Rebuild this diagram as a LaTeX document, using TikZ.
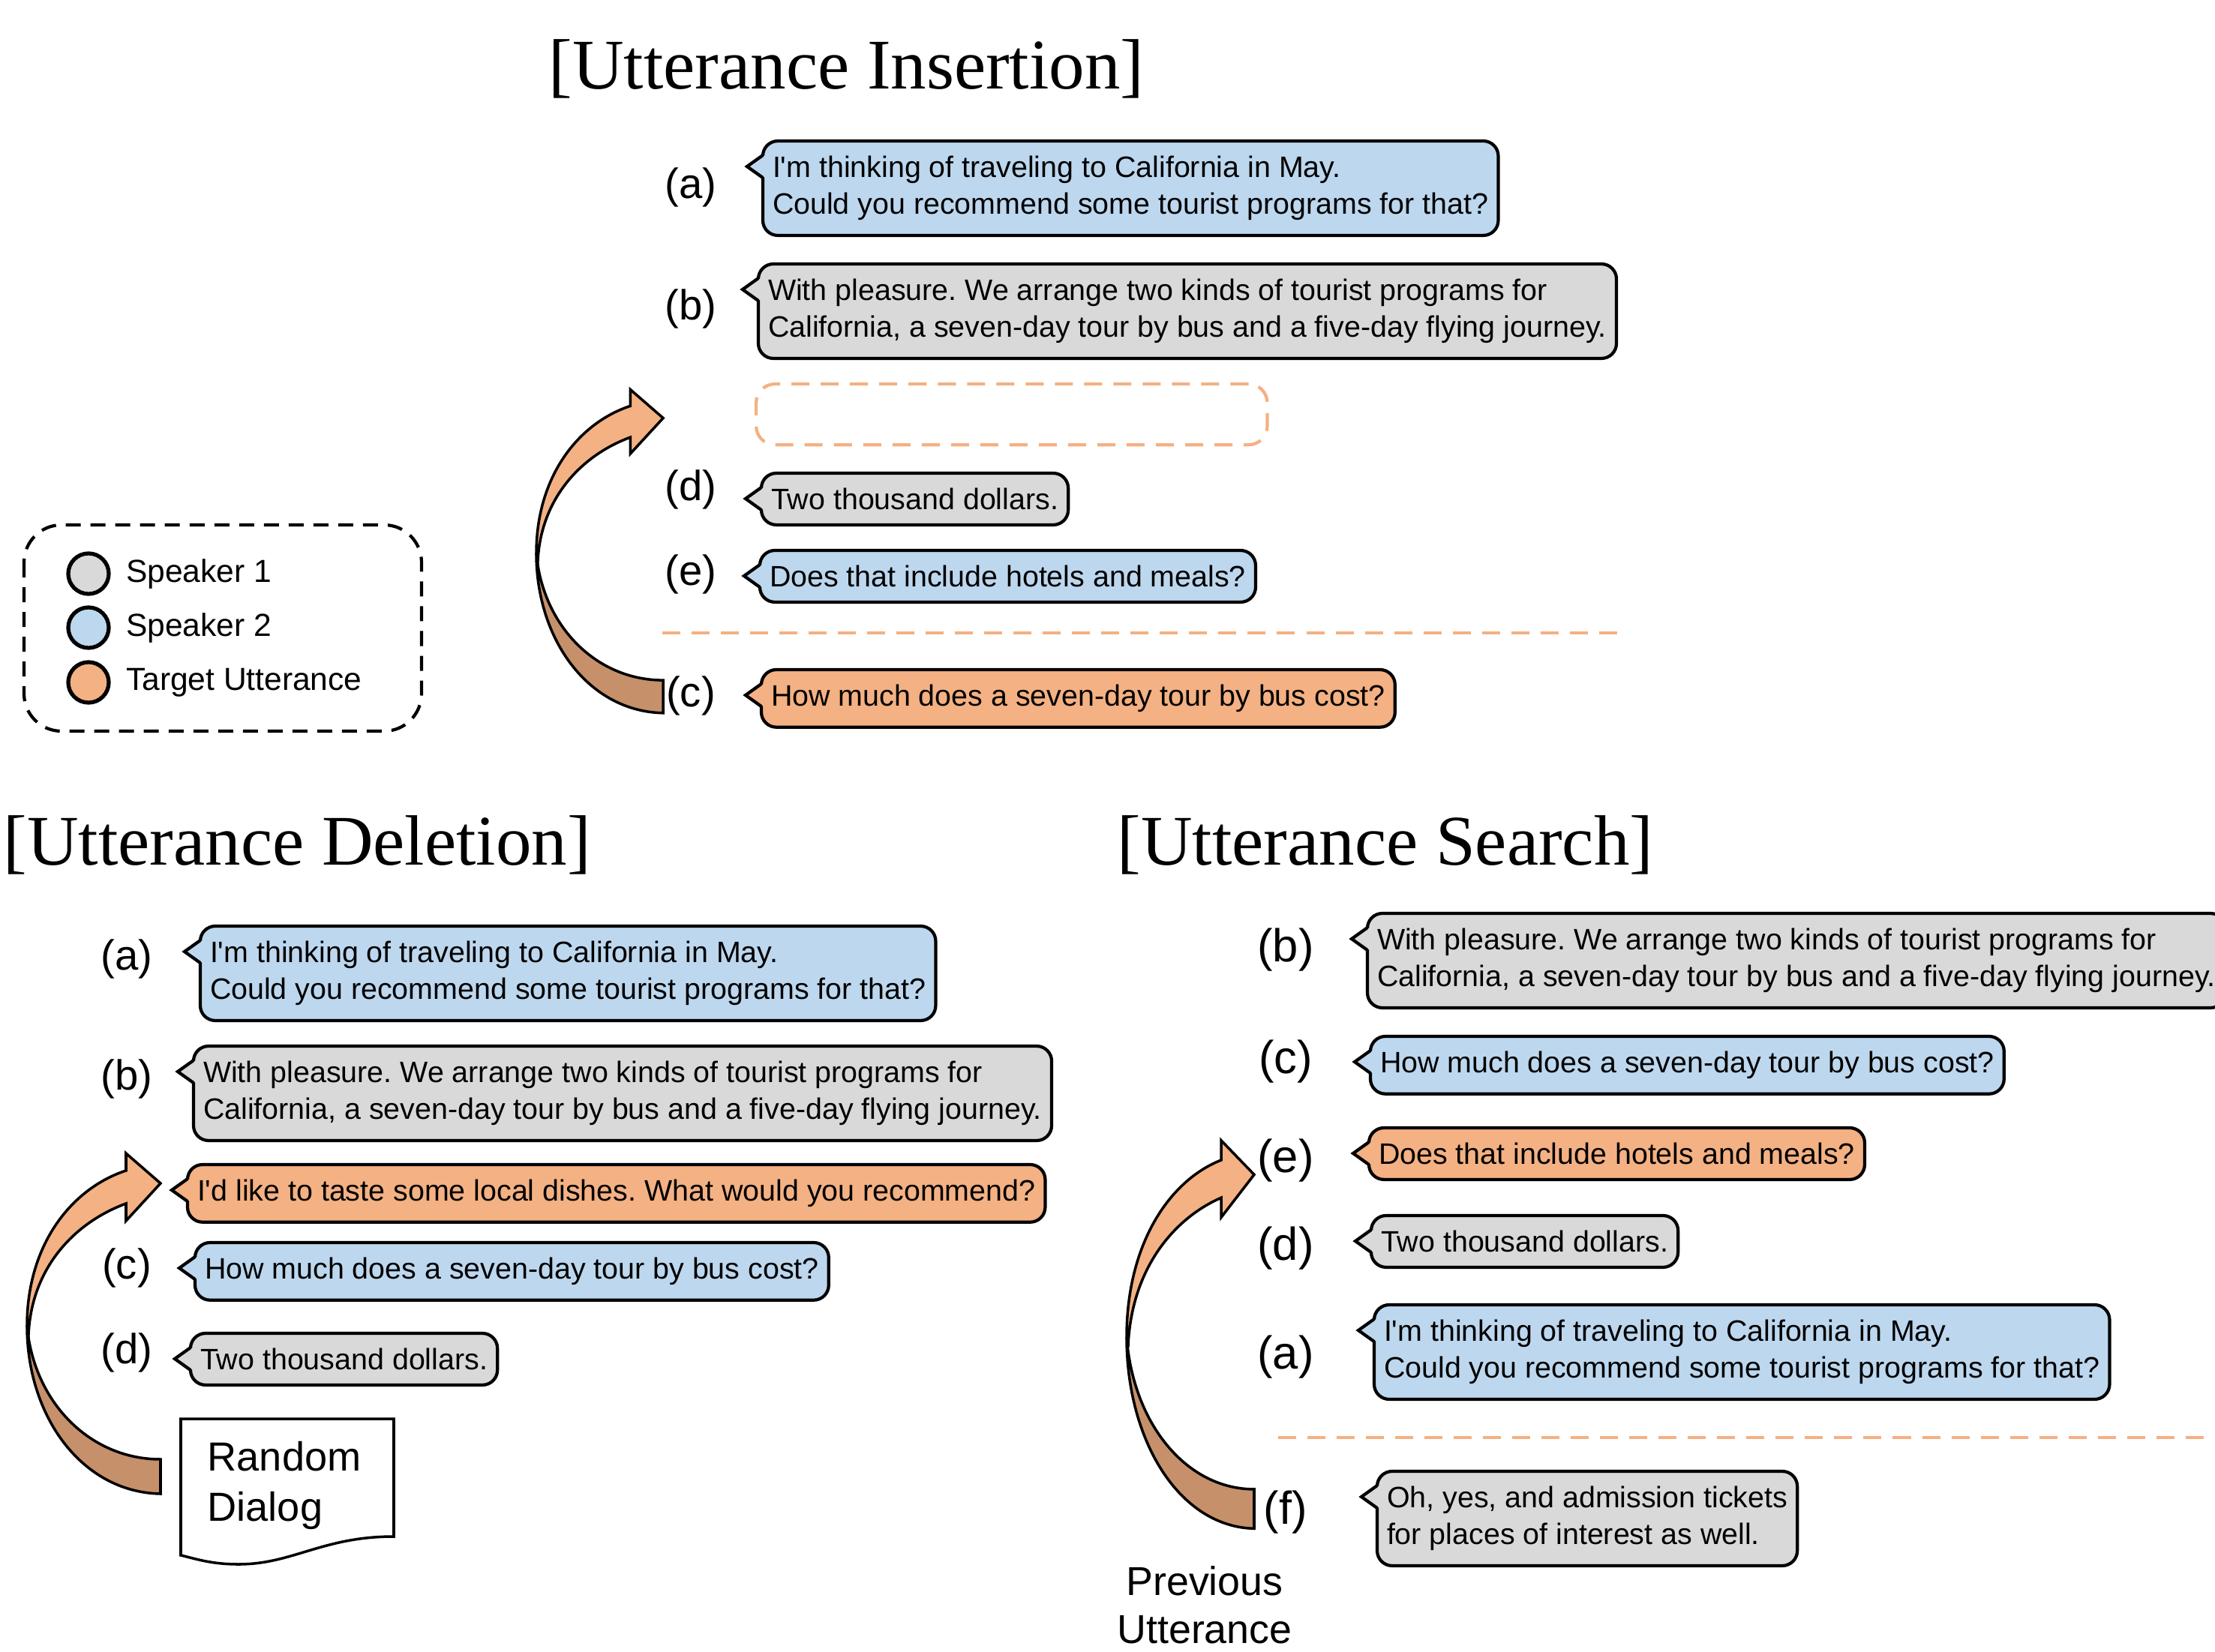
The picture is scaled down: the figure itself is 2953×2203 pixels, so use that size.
\documentclass[tikz,border=0pt]{standalone}
\usepackage{fontspec}
\setmainfont{Liberation Sans}
\newfontfamily\titlefont{Liberation Serif}
\usetikzlibrary{calc,positioning}
\frenchspacing

\definecolor{spkone}{HTML}{D9D9D9}
\definecolor{spktwo}{HTML}{BDD7EE}
\definecolor{target}{HTML}{F4B183}
\definecolor{targetdark}{HTML}{C5906A}

\tikzset{
	bubble/.style={draw, line width=1.2pt, rounded corners=0.2cm, anchor=north west, outer sep=0pt, align=left, inner xsep=0.13cm, inner ysep=0.2cm, font=\fontsize{11.2}{14}\selectfont},
	tag/.style={font=\fontsize{16}{19}\selectfont},
	bigtag/.style={font=\fontsize{17.5}{21}\selectfont},
	heading/.style={anchor=base west, inner sep=0pt, font=\titlefont\fontsize{27}{32}\selectfont},
	gap/.style={draw=target, line width=1.2pt, dash pattern=on 0.24cm off 0.15cm},
	legenddot/.style={circle, draw, line width=1.5pt, minimum size=0.54cm, inner sep=0pt},
}

% speech bubble: name, north west corner, colour, text
\newcommand{\utt}[4]{%
	\node[bubble, fill=#3] (#1) at (#2) {#4};
	\fill[#3] ($(#1.north west)+(0.03cm,-0.19cm)$) -- ++(-0.24cm,-0.15cm) -- ++(0.24cm,-0.15cm) -- cycle;
	\draw[line width=1.2pt] ($(#1.north west)+(0,-0.19cm)$) -- ++(-0.21cm,-0.15cm) -- ++(0.21cm,-0.15cm);
}

% curved arrow: leftmost point, xscale, yscale
\newcommand{\curvarrow}[3]{%
	\begin{scope}[shift={(#1)}, xscale=#2, yscale=#3, line width=1pt]
		\filldraw[fill=target] (0,0) .. controls (0,-108) and (59,-183) .. (132,-207) -- (132,-230) -- (178,-190) -- (132,-140) -- (132,-163) .. controls (64,-138) and (6,-78) .. (2,12) -- cycle;
		\filldraw[fill=targetdark] (178,224) .. controls (74,222) and (0,122) .. (0,0) .. controls (9,102) and (84,178) .. (178,178) -- cycle;
	\end{scope}
}

\begin{document}
\begin{tikzpicture}[x=0.01cm, y=-0.01cm]

	\useasboundingbox (0,0) rectangle (2953,2203);

	% legend
	\draw[line width=1.2pt, dash pattern=on 0.2cm off 0.13cm, rounded corners=0.5cm] (32,700) rectangle (562,975);
	\node[legenddot, fill=spkone] (k1) at (118,765) {};
	\node[legenddot, fill=spktwo] (k2) at (118,837) {};
	\node[legenddot, fill=target] (k3) at (118,910) {};
	\node[right=0.08cm of k1, font=\fontsize{12.1}{14}\selectfont] (n1) {Speaker 1};
	\node[right=0.08cm of k2, font=\fontsize{12.1}{14}\selectfont] (n2) {Speaker 2};
	\node[right=0.08cm of k3, font=\fontsize{12.1}{14}\selectfont] (n3) {Target Utterance};

	% insertion
	\node[heading] (tins) at (731,119) {[Utterance Insertion]};
	\curvarrow{715,738}{0.95}{0.95}
	\node[tag] (lia) at (921,250) {(a)};
	\node[tag] (lib) at (921,412) {(b)};
	\node[tag] (lid) at (921,653) {(d)};
	\node[tag] (lie) at (921,766) {(e)};
	\node[tag] (lic) at (921,928) {(c)};
	\utt{ia}{1017,188}{spktwo}{I\textquotesingle m thinking of traveling to California in May.\\Could you recommend some tourist programs for that?}
	\utt{ib}{1011,352}{spkone}{With pleasure. We arrange two kinds of tourist programs for\\California, a seven-day tour by bus and a five-day flying journey.}
	\node[gap, rounded corners=0.25cm, anchor=north west, minimum width=6.81cm, minimum height=0.81cm] (slot) at (1006,510) {};
	\utt{id}{1015,631}{spkone}{Two thousand dollars.}
	\utt{ie}{1013,734}{spktwo}{Does that include hotels and meals?}
	\draw[gap] (883,844) -- (2169,844);
	\utt{ic}{1015,893}{target}{How much does a seven-day tour by bus cost?}

	% deletion
	\node[heading] (tdel) at (4,1153) {[Utterance Deletion]};
	\curvarrow{36,1768}{1}{1}
	\node[tag] (lda) at (169,1279) {(a)};
	\node[tag] (ldb) at (169,1439) {(b)};
	\node[tag] (ldc) at (169,1691) {(c)};
	\node[tag] (ldd) at (169,1804) {(d)};
	\utt{da}{267,1235}{spktwo}{I\textquotesingle m thinking of traveling to California in May.\\Could you recommend some tourist programs for that?}
	\utt{db}{258,1395}{spkone}{With pleasure. We arrange two kinds of tourist programs for\\California, a seven-day tour by bus and a five-day flying journey.}
	\utt{dt}{250,1553}{target}{I\textquotesingle d like to taste some local dishes. What would you recommend?}
	\utt{dc}{260,1657}{spktwo}{How much does a seven-day tour by bus cost?}
	\utt{dd}{254,1778}{spkone}{Two thousand dollars.}
	\draw[line width=1pt, fill=white] (241,1892) -- (241,2074) .. controls (262,2079) and (282,2086) .. (318,2086) .. controls (390,2086) and (430,2049) .. (525,2049) -- (525,1892) -- cycle;
	\node[anchor=north west, align=left, inner sep=0pt, font=\fontsize{15.4}{19}\selectfont] (rand) at (276,1922) {Random\\Dialog};

	% search
	\node[heading] (tsea) at (1489,1153) {[Utterance Search]};
	\curvarrow{1502,1783}{0.955}{1.14}
	\node[bigtag] (lsb) at (1714,1267) {(b)};
	\node[bigtag] (lsc) at (1714,1416) {(c)};
	\node[bigtag] (lse) at (1714,1548) {(e)};
	\node[bigtag] (lsd) at (1714,1665) {(d)};
	\node[bigtag] (lsa) at (1714,1810) {(a)};
	\node[bigtag] (lsf) at (1714,2017) {(f)};
	\utt{sb}{1823,1218}{spkone}{With pleasure. We arrange two kinds of tourist programs for\\California, a seven-day tour by bus and a five-day flying journey.}
	\utt{sc}{1827,1382}{spktwo}{How much does a seven-day tour by bus cost?}
	\utt{se}{1825,1504}{target}{Does that include hotels and meals?}
	\utt{sd}{1828,1621}{spkone}{Two thousand dollars.}
	\utt{sa}{1832,1740}{spktwo}{I\textquotesingle m thinking of traveling to California in May.\\Could you recommend some tourist programs for that?}
	\draw[gap] (1704,1917) -- (2953,1917);
	\utt{sf}{1836,1962}{spkone}{Oh, yes, and admission tickets\\for places of interest as well.}
	\node[align=center, font=\fontsize{15.3}{18.2}\selectfont] (prev) at (1606,2140) {Previous\\Utterance};

\end{tikzpicture}
\end{document}
